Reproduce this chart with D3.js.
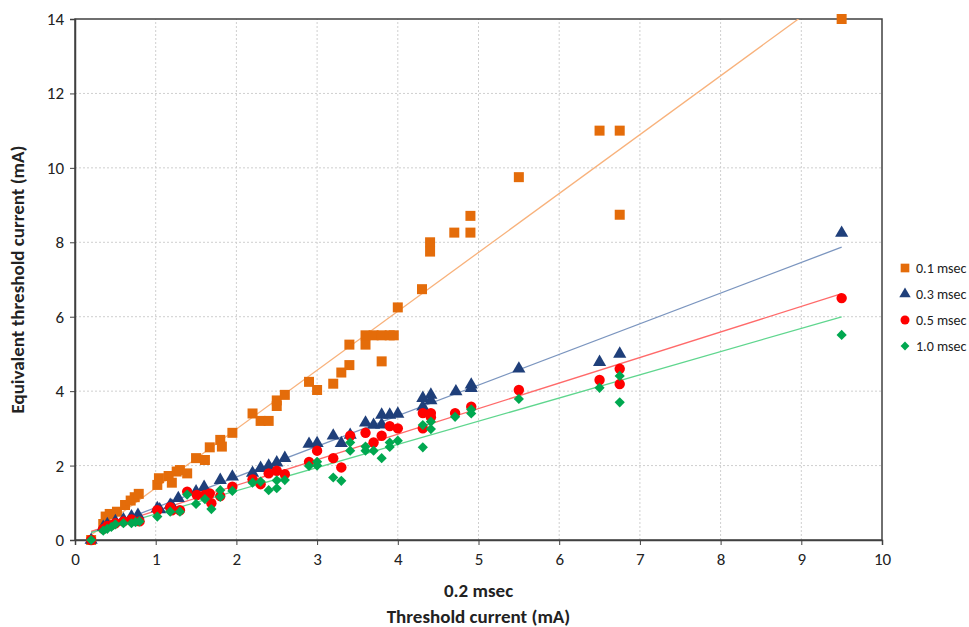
<!DOCTYPE html>
<html>
<head>
<meta charset="utf-8">
<script src="https://cdn.jsdelivr.net/npm/d3@7"></script>
<style>
  body { margin: 0; background: #fff; }
  svg text { font-family: Carlito, 'Liberation Sans Narrow', 'Open Sans', sans-serif; }
</style>
</head>
<body>
<svg id="chart"></svg>
<script>
// 0.1 msec
const x01 = [0.2, 0.35, 0.38, 0.43, 0.52, 0.62, 0.69, 0.74, 0.79, 1.02, 1.04, 1.16, 1.2, 1.26, 1.3, 1.39, 1.5, 1.61, 1.67, 1.8, 1.82, 1.95,
  2.2, 2.3, 2.4, 2.5, 2.5, 2.6, 2.9, 3.0, 3.2, 3.3, 3.4, 3.4, 3.6, 3.6, 3.7, 3.8, 3.9, 3.95, 3.8, 4.0, 4.3, 4.4, 4.4, 4.7, 4.9, 4.9,
  5.5, 6.5, 6.75, 6.75, 9.5];
const y01 = [0, 0.43, 0.63, 0.7, 0.76, 0.94, 1.06, 1.15, 1.24, 1.48, 1.66, 1.72, 1.54, 1.84, 1.88, 1.79, 2.2, 2.15, 2.49, 2.69, 2.51, 2.88,
  3.4, 3.2, 3.2, 3.6, 3.75, 3.9, 4.25, 4.03, 4.2, 4.5, 4.7, 5.25, 5.25, 5.5, 5.5, 5.5, 5.5, 5.5, 4.8, 6.25, 6.74, 8.0, 7.75, 8.26, 8.26, 8.71,
  9.75, 11, 11, 8.74, 14];

// 0.3 msec
const x03 = [0.2, 0.35, 0.4, 0.5, 0.6, 0.7, 0.78, 1.02, 1.05, 1.18, 1.2, 1.28, 1.5, 1.6, 1.8, 1.95, 2.2, 2.3, 2.4, 2.5, 2.6,
  2.9, 3.0, 3.2, 3.3, 3.41, 3.6, 3.7, 3.8, 3.8, 3.9, 4.0, 4.31, 4.31, 4.41, 4.41, 4.72, 4.91, 4.91, 5.5, 6.5, 6.75, 9.5];
const y03 = [0, 0.35, 0.42, 0.5, 0.55, 0.63, 0.67, 0.85, 0.82, 0.94, 0.92, 1.12, 1.3, 1.42, 1.61, 1.7, 1.8, 1.93, 1.99, 2.08, 2.2,
  2.58, 2.6, 2.8, 2.6, 2.82, 3.15, 3.09, 3.36, 3.1, 3.36, 3.39, 3.81, 3.58, 3.9, 3.75, 3.99, 4.17, 4.08, 4.6, 4.78, 5.0, 8.25];

// 0.5 msec
const x05 = [0.2, 0.35, 0.4, 0.45, 0.5, 0.6, 0.7, 0.8, 1.02, 1.18, 1.2, 1.3, 1.39, 1.51, 1.61, 1.67, 1.69, 1.8, 1.95, 2.2, 2.3, 2.4, 2.5, 2.6,
  2.9, 3.0, 3.2, 3.3, 3.41, 3.6, 3.7, 3.8, 3.9, 4.0, 4.31, 4.31, 4.41, 4.41, 4.71, 4.91, 5.5, 6.5, 6.75, 6.75, 9.5];
const y05 = [0, 0.3, 0.38, 0.4, 0.45, 0.5, 0.55, 0.5, 0.8, 0.88, 0.8, 0.8, 1.3, 1.21, 1.21, 1.25, 0.99, 1.18, 1.43, 1.63, 1.5, 1.79, 1.86, 1.77,
  2.1, 2.4, 2.2, 1.95, 2.8, 2.88, 2.62, 2.8, 3.06, 3.0, 3.41, 3.0, 3.41, 3.3, 3.41, 3.58, 4.03, 4.3, 4.6, 4.19, 6.5];

// 1.0 msec
const x10 = [0.2, 0.35, 0.4, 0.45, 0.5, 0.6, 0.7, 0.75, 0.8, 1.02, 1.18, 1.3, 1.39, 1.5, 1.61, 1.69, 1.8, 1.8, 1.95, 2.2, 2.3, 2.4, 2.5, 2.5, 2.6,
  2.9, 3.0, 3.0, 3.2, 3.3, 3.41, 3.41, 3.6, 3.6, 3.7, 3.8, 3.9, 3.9, 4.0, 4.31, 4.31, 4.41, 4.41, 4.71, 4.91, 4.91, 5.5, 6.5, 6.75, 6.75, 9.5];
const y10 = [0, 0.25, 0.3, 0.35, 0.42, 0.45, 0.45, 0.48, 0.5, 0.63, 0.76, 0.76, 1.22, 0.97, 1.1, 0.83, 1.16, 1.34, 1.32, 1.54, 1.57, 1.34, 1.39, 1.6, 1.61,
  1.99, 2.1, 2.0, 1.68, 1.59, 2.62, 2.4, 2.51, 2.4, 2.4, 2.2, 2.62, 2.5, 2.67, 3.09, 2.49, 3.18, 2.98, 3.31, 3.51, 3.4, 3.79, 4.09, 4.41, 3.7, 5.51];

const seriesNames = ['0.1 msec', '0.3 msec', '0.5 msec', '1.0 msec'];
const xTicks = [0, 1, 2, 3, 4, 5, 6, 7, 8, 9, 10];
const yTicks = [0, 2, 4, 6, 8, 10, 12, 14];

const width = 969, height = 627;
const margin = { top: 19, right: 87, bottom: 87, left: 75 };

const styles = [
  { shape: d3.symbolSquare, size: 100, rot: 0, fill: '#E46C0A', line: '#F8B27C' },
  { shape: d3.symbolTriangle, size: 75, rot: 0, fill: '#1F3F7A', line: '#7B95BF' },
  { shape: d3.symbolCircle, size: 85, rot: 0, fill: '#FF0000', line: '#FF6A6A' },
  { shape: d3.symbolSquare, size: 52, rot: 45, fill: '#00A850', line: '#5FD68E' }
];

const series = [[x01, y01], [x03, y03], [x05, y05], [x10, y10]].map(([xs, ys], i) => ({
  name: seriesNames[i],
  points: xs.map((x, j) => ({ x, y: ys[j] })),
  style: styles[i]
}));

const svg = d3.select('#chart')
  .attr('width', width)
  .attr('height', height);

const x = d3.scaleLinear().domain([0, 10]).range([margin.left, width - margin.right]);
const y = d3.scaleLinear().domain([0, 14]).range([height - margin.bottom, margin.top]);

svg.append('defs').append('clipPath').attr('id', 'plot')
  .append('rect')
  .attr('x', margin.left).attr('y', margin.top)
  .attr('width', x(10) - x(0)).attr('height', y(0) - y(14));

// grid
svg.append('g')
  .selectAll('line')
  .data(xTicks.slice(1, -1))
  .join('line')
  .attr('x1', d => x(d)).attr('x2', d => x(d))
  .attr('y1', y(0)).attr('y2', y(14))
  .attr('stroke', '#cfcfcf').attr('stroke-dasharray', '2,2');

svg.append('g')
  .selectAll('line')
  .data(yTicks.slice(1, -1))
  .join('line')
  .attr('y1', d => y(d)).attr('y2', d => y(d))
  .attr('x1', x(0)).attr('x2', x(10))
  .attr('stroke', '#cfcfcf').attr('stroke-dasharray', '2,2');

// frame
svg.append('rect')
  .attr('x', x(0)).attr('y', y(14))
  .attr('width', x(10) - x(0)).attr('height', y(0) - y(14))
  .attr('fill', 'none').attr('stroke', '#404040').attr('stroke-width', 1.5);

// axes
const xAxis = svg.append('g')
  .attr('transform', `translate(0,${y(0)})`)
  .call(d3.axisBottom(x).tickValues(xTicks).tickSize(5).tickPadding(8));
const yAxis = svg.append('g')
  .attr('transform', `translate(${x(0)},0)`)
  .call(d3.axisLeft(y).tickValues(yTicks).tickSize(5).tickPadding(6));

[xAxis, yAxis].forEach(g => {
  g.select('.domain').attr('stroke', '#404040').attr('stroke-width', 1.5);
  g.selectAll('.tick line').attr('stroke', '#404040');
  g.selectAll('text').attr('font-size', 17).attr('fill', '#222');
});

// trend lines (least squares on each series)
const fit = pts => {
  const mx = d3.mean(pts, d => d.x), my = d3.mean(pts, d => d.y);
  const b = d3.sum(pts, d => (d.x - mx) * (d.y - my)) / d3.sum(pts, d => (d.x - mx) ** 2);
  return { b, a: my - b * mx };
};

svg.append('g')
  .attr('clip-path', 'url(#plot)')
  .selectAll('line')
  .data(series)
  .join('line')
  .each(function (s) {
    const { a, b } = fit(s.points);
    const [x0, x1] = d3.extent(s.points, d => d.x);
    d3.select(this)
      .attr('x1', x(x0)).attr('y1', y(a + b * x0))
      .attr('x2', x(x1)).attr('y2', y(a + b * x1));
  })
  .attr('stroke', s => s.style.line)
  .attr('stroke-width', 1.3);

// markers
series.forEach(s => {
  svg.append('g')
    .selectAll('path')
    .data(s.points)
    .join('path')
    .attr('transform', d => `translate(${x(d.x)},${y(d.y)}) rotate(${s.style.rot})`)
    .attr('d', d3.symbol(s.style.shape, s.style.size))
    .attr('fill', s.style.fill);
});

// legend
const legend = svg.append('g')
  .selectAll('g')
  .data(series)
  .join('g')
  .attr('transform', (d, i) => `translate(905,${268 + i * 26})`);

legend.append('path')
  .attr('d', d => d3.symbol(d.style.shape, d.style.size * 0.75)())
  .attr('transform', d => `rotate(${d.style.rot})`)
  .attr('fill', d => d.style.fill);

legend.append('text')
  .attr('x', 11)
  .attr('dy', '0.35em')
  .attr('font-size', 14)
  .attr('fill', '#222')
  .text(d => d.name);

// titles
svg.append('text')
  .attr('x', (x(0) + x(10)) / 2).attr('y', 597)
  .attr('text-anchor', 'middle')
  .attr('font-size', 19).attr('font-weight', 'bold').attr('fill', '#222')
  .text('0.2 msec');

svg.append('text')
  .attr('x', (x(0) + x(10)) / 2).attr('y', 623)
  .attr('text-anchor', 'middle')
  .attr('font-size', 19).attr('font-weight', 'bold').attr('fill', '#222')
  .text('Threshold current (mA)');

svg.append('text')
  .attr('transform', `translate(24,${(y(0) + y(14)) / 2}) rotate(-90)`)
  .attr('text-anchor', 'middle')
  .attr('font-size', 19).attr('font-weight', 'bold').attr('fill', '#222')
  .text('Equivalent threshold current (mA)');
</script>
</body>
</html>
